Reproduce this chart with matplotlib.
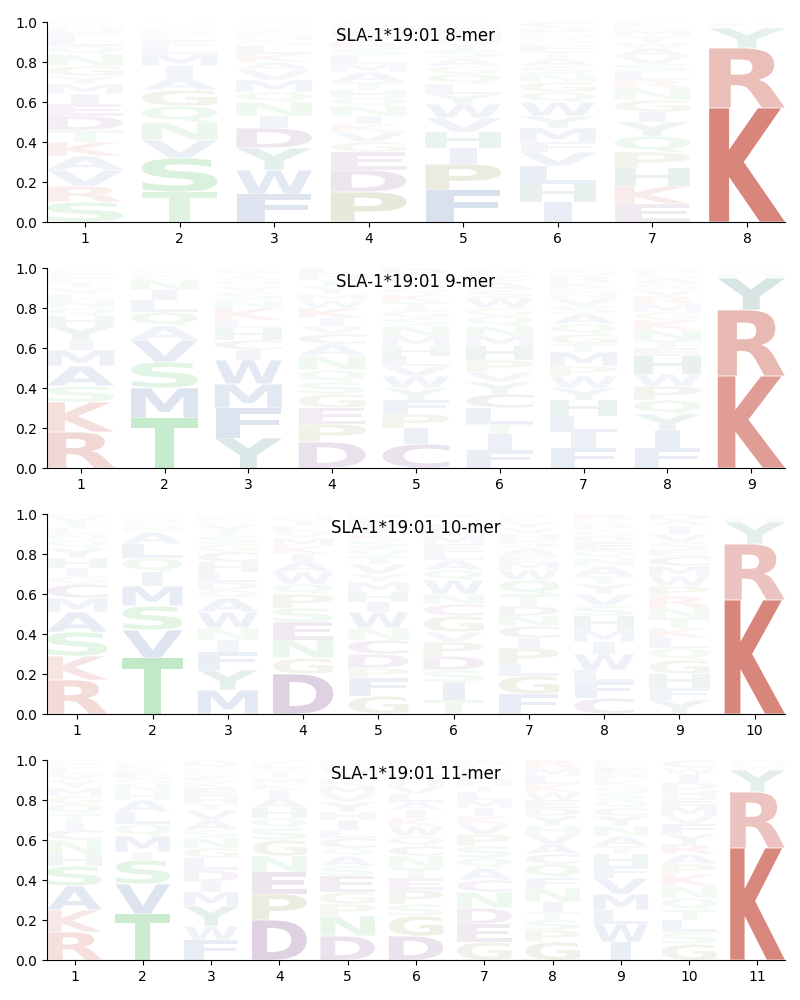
import matplotlib
matplotlib.use("Agg")
import matplotlib.pyplot as plt
from matplotlib.textpath import TextPath
from matplotlib.patches import PathPatch
from matplotlib.font_manager import FontProperties
from matplotlib.transforms import Affine2D

ALLELE = "SLA-1*19:01"

# Each position: letters from bottom to top, and their frequencies.
MER8_LETTERS = [
    "SRVAKTDEIMYGNQLFHWCP",
    "TSVNQGAIMLEFDKRYH",
    "FWYDINQMVAKLSHETRCG",
    "PDEGVKINQHTAMLSRYFWC",
    "FPIHVWYLQGASTNMEDK",
    "IHLVFMYWQGNSATEKRDPC",
    "EKHPQYIGNRLSVAWTMDF",
    "KRYHFW",
]
MER8_FREQS = [
    [.10, .08, .08, .07, .07, .06, .07, .06, .05, .05, .04, .05, .06, .04, .04, .03, .02, .01, .01, .01],
    [.15, .17, .09, .09, .08, .08, .06, .06, .06, .04, .03, .02, .02, .02, .01, .01, .01],
    [.14, .12, .11, .10, .06, .07, .05, .06, .05, .04, .04, .04, .03, .02, .02, .02, .01, .01, .01],
    [.15, .11, .09, .05, .05, .04, .04, .05, .04, .04, .04, .05, .04, .04, .04, .03, .03, .03, .02, .02],
    [.16, .13, .08, .08, .07, .07, .05, .05, .05, .04, .04, .04, .03, .03, .03, .02, .02, .01],
    [.10, .09, .09, .07, .05, .07, .06, .07, .05, .05, .04, .04, .04, .03, .03, .02, .02, .02, .03, .03],
    [.09, .09, .09, .08, .08, .07, .05, .06, .06, .04, .04, .04, .04, .04, .03, .03, .03, .02, .02],
    [.57, .30, .10, .01, .01, .01],
]

MER9_LETTERS = [
    "RKSAMIYHQNLVTFEGD",
    "TMSVAQLINEGKR",
    "YFMWICHLKNSVQATRE",
    "DPEGSQNACVIKWMYTHL",
    "CIPFYWVLHMNSGTKQARED",
    "FITLCYVPHMNQGWSAKER",
    "FILHYWPMTGQASVNEKRDC",
    "FIYQPWHETNKGMRVSALDC",
    "KRYHFWM",
]
MER9_FREQS = [
    [.18, .15, .08, .10, .08, .05, .07, .05, .04, .04, .03, .03, .03, .02, .02, .02, .01],
    [.25, .15, .13, .11, .07, .07, .06, .05, .05, .02, .02, .01, .01],
    [.15, .15, .12, .12, .05, .05, .06, .04, .06, .04, .04, .03, .03, .02, .02, .01, .01],
    [.13, .09, .08, .07, .06, .06, .07, .06, .05, .04, .04, .05, .04, .03, .04, .03, .03, .03],
    [.12, .08, .07, .07, .06, .06, .05, .05, .05, .05, .05, .04, .04, .04, .04, .03, .03, .02, .02, .03],
    [.09, .08, .05, .08, .07, .06, .05, .06, .07, .05, .05, .05, .04, .05, .04, .04, .03, .02, .02],
    [.10, .08, .08, .08, .06, .06, .05, .07, .04, .05, .05, .05, .04, .04, .03, .02, .03, .03, .02, .02],
    [.10, .09, .08, .07, .07, .06, .09, .04, .04, .05, .05, .04, .04, .04, .03, .03, .03, .02, .02, .01],
    [.46, .33, .16, .02, .01, .01, .01],
]

MER10_LETTERS = [
    "RKSAMCGIHYQNLTVF",
    "TVSMIQLANEGKR",
    "MYFINWAQDLHCGSTVKER",
    "DGNESPQWAIKMVLTHY",
    "GFPDCNWIHMYVTQSKAELR",
    "TISDPVGCNWQALEMHFYKR",
    "FGLPICNDTQWMEASHVYKR",
    "CFLWIMHSVYTANQEDGPKR",
    "YFHGQLKTNRPWMCESVIAD",
    "KRYHFW",
]
MER10_FREQS = [
    [.17, .12, .12, .10, .07, .07, .04, .04, .05, .05, .04, .03, .03, .03, .03, .01],
    [.28, .14, .12, .10, .07, .07, .07, .06, .03, .02, .02, .01, .01],
    [.12, .10, .09, .06, .06, .08, .07, .04, .04, .05, .05, .05, .04, .04, .03, .03, .02, .02, .01],
    [.20, .08, .09, .09, .07, .07, .05, .06, .05, .04, .04, .04, .03, .03, .03, .02, .01],
    [.09, .09, .05, .07, .07, .06, .08, .05, .05, .05, .04, .05, .04, .04, .04, .03, .03, .03, .02, .02],
    [.07, .09, .06, .07, .07, .05, .08, .06, .05, .07, .05, .05, .04, .04, .04, .03, .03, .02, .01, .02],
    [.10, .09, .06, .08, .05, .06, .05, .05, .06, .07, .05, .04, .03, .04, .04, .03, .03, .03, .02, .02],
    [.08, .08, .06, .08, .06, .06, .07, .05, .06, .05, .04, .05, .04, .04, .04, .03, .03, .03, .02, .03],
    [.07, .06, .07, .07, .06, .05, .05, .05, .05, .06, .05, .05, .05, .05, .03, .04, .04, .04, .03, .03],
    [.57, .28, .11, .02, .01, .01],
]

MER11_LETTERS = [
    "RKASHNCITQGMYVLEDF",
    "TVSIMQLAHNGEKFYR",
    "FWYMIDLGNSAVTHEKCRPQ",
    "DPENGSQHAIKMTVLY",
    "DNPGESAQCLIHYVMKTWFR",
    "DGSPETNCQWKIALVHMYFR",
    "GEDNCAQSPVKIMLTHRYFW",
    "GPSTINFQCAVHYDEWKLMR",
    "IWLMVFHTANYCQSGKPERD",
    "GSLTQNKPARYFVMEHDIWC",
    "KRYWHF",
]
MER11_FREQS = [
    [.14, .11, .12, .10, .06, .07, .05, .04, .04, .05, .04, .04, .04, .03, .03, .02, .01, .01],
    [.23, .15, .12, .04, .08, .06, .06, .06, .04, .04, .03, .03, .02, .02, .01, .01],
    [.10, .07, .10, .07, .05, .06, .06, .05, .05, .04, .05, .05, .03, .04, .04, .03, .03, .02, .02, .04],
    [.20, .13, .11, .08, .08, .06, .05, .05, .05, .04, .03, .03, .03, .02, .02, .02],
    [.12, .10, .06, .06, .08, .05, .05, .04, .05, .04, .05, .04, .05, .04, .04, .03, .03, .03, .02, .02],
    [.12, .10, .06, .07, .06, .05, .06, .05, .05, .05, .04, .04, .04, .04, .04, .03, .03, .03, .02, .02],
    [.09, .09, .08, .08, .06, .06, .05, .06, .06, .05, .04, .04, .04, .04, .03, .03, .03, .03, .02, .02],
    [.09, .06, .05, .04, .05, .07, .05, .07, .05, .05, .05, .04, .05, .04, .04, .04, .04, .04, .04, .04],
    [.09, .09, .07, .08, .08, .06, .06, .04, .05, .05, .05, .04, .04, .04, .03, .03, .03, .03, .02, .02],
    [.08, .06, .06, .05, .06, .06, .06, .05, .05, .05, .05, .05, .04, .05, .04, .04, .04, .04, .03, .04],
    [.56, .28, .11, .02, .02, .01],
]

PANELS = [
    ("8-mer", MER8_LETTERS, MER8_FREQS),
    ("9-mer", MER9_LETTERS, MER9_FREQS),
    ("10-mer", MER10_LETTERS, MER10_FREQS),
    ("11-mer", MER11_LETTERS, MER11_FREQS),
]

# colour by residue class
GROUP_COLORS = {
    "KR": "#bb2a18",
    "DEC": "#5a1a6c",
    "STNQ": "#23b038",
    "GP": "#6a6e10",
    "AVLIMFW": "#1e4a9a",
    "HY": "#07685e",
}
COLOR = {aa: c for group, c in GROUP_COLORS.items() for aa in group}

FONT = FontProperties(family="DejaVu Sans", weight="bold")
WIDTH = 0.8

# narrow glyphs (like I) are not stretched wider than E would be
_e_ext = TextPath((0, 0), "E", size=1, prop=FONT).get_extents()
MAX_HSTRETCH = WIDTH / _e_ext.width


def draw_letter(ax, letter, x, y, h, color, alpha):
    path = TextPath((0, 0), letter, size=1, prop=FONT)
    ext = path.get_extents()
    pad = 0.004
    hh = max(h - pad, 0.001)
    sx = min(WIDTH / ext.width, MAX_HSTRETCH)
    w = ext.width * sx
    trans = (Affine2D().translate(-ext.x0, -ext.y0)
             .scale(sx, hh / ext.height)
             .translate(x - w / 2, y + pad / 2))
    patch = PathPatch(trans.transform_path(path), facecolor=color,
                      edgecolor="none", alpha=alpha)
    ax.add_patch(patch)


fig, axes = plt.subplots(4, 1, figsize=(8, 10), dpi=100)
plt.subplots_adjust(left=0.059, right=0.981, top=0.978, bottom=0.04,
                    hspace=0.23)

for ax, (name, letters, freqs) in zip(axes, PANELS):
    n = len(letters)
    for i in range(n):
        y = 0.0
        for aa, f in zip(letters[i], freqs[i]):
            draw_letter(ax, aa, i + 1, y, f, COLOR[aa], min(1.0, f))
            y += f
    ax.set_xlim(0.6, n + 0.4)
    ax.set_ylim(0, 1)
    ax.set_xticks(range(1, n + 1))
    ax.set_yticks([0, 0.2, 0.4, 0.6, 0.8, 1.0])
    ax.spines["top"].set_visible(False)
    ax.spines["right"].set_visible(False)
    ax.text(0.5, 0.93, "%s %s" % (ALLELE, name), transform=ax.transAxes,
            ha="center", va="center", fontsize=12)

plt.savefig("out.png")
